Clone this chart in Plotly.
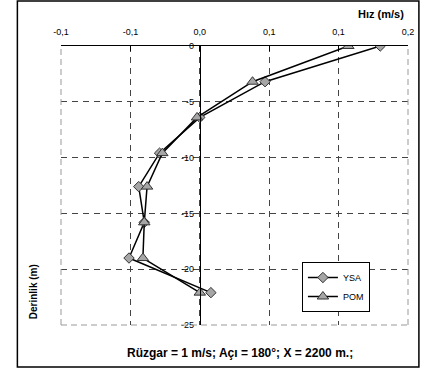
import plotly.graph_objects as go

depth = [0, -3.2, -6.4, -9.6, -12.6, -15.8, -19.0, -22.1]
ysa = [0.130, 0.047, 0.000, -0.029, -0.044, -0.040, -0.051, 0.008]
pom = [0.107, 0.038, -0.002, -0.027, -0.038, -0.040, -0.041, 0.000]

x_ticks = [-0.1, -0.05, 0.0, 0.05, 0.1, 0.15]
x_ticktext = ["-0,1", "-0,1", "0,0", "0,1", "0,1", "0,2"]
y_ticks = [0, -5, -10, -15, -20, -25]
y_ticktext = ["0", "-5", "-10", "-15", "-20", "-25"]

FONT = "Arial, Liberation Sans, sans-serif"
W, H = 426, 378
ML, MR, MT, MB = 61, 15, 46, 53
PW, PH = W - ML - MR, H - MT - MB


def px(x):
    return (x - ML) / PW


def py(y):
    return (H - MB - y) / PH


fig = go.Figure()
fig.add_trace(go.Scatter(
    x=ysa, y=depth, name="YSA", mode="lines+markers",
    line=dict(color="black", width=1.5),
    marker=dict(symbol="diamond", size=8, color="#a6a6a6",
                line=dict(color="#333333", width=1)),
))
fig.add_trace(go.Scatter(
    x=pom, y=depth, name="POM", mode="lines+markers",
    line=dict(color="black", width=1.5),
    marker=dict(symbol="triangle-up", size=10, color="#a6a6a6",
                line=dict(color="#333333", width=1)),
))

fig.update_layout(
    width=W, height=H,
    margin=dict(l=ML, r=MR, t=MT, b=MB),
    paper_bgcolor="white", plot_bgcolor="white",
    font=dict(family=FONT, size=9, color="black"),
    showlegend=True,
    legend=dict(x=px(304), y=py(262), xanchor="left", yanchor="top",
                bordercolor="black", borderwidth=1, bgcolor="white",
                font=dict(size=9), itemwidth=30, tracegroupgap=0),
    xaxis=dict(
        range=[-0.1, 0.15], side="top", tickvals=x_ticks, ticktext=x_ticktext,
        showline=True, linecolor="black", linewidth=1,
        ticks="inside", ticklen=5, tickcolor="black",
        showgrid=True, gridcolor="#444444", gridwidth=1, griddash="6px,5px",
        zeroline=False, ticklabelstandoff=6,
    ),
    yaxis=dict(
        range=[-25, 0], tickvals=y_ticks, ticktext=y_ticktext,
        anchor="free", position=0.4,
        showline=True, linecolor="black", linewidth=1,
        ticks="", showgrid=True, gridcolor="#444444", gridwidth=1,
        griddash="6px,5px", zeroline=False, ticklabelstandoff=4,
    ),
    shapes=[
        dict(type="line", xref="paper", yref="paper", x0=0, x1=0, y0=0, y1=1,
             line=dict(color="#999999", width=1, dash="6px,4px")),
        dict(type="line", xref="paper", yref="paper", x0=1, x1=1, y0=0, y1=1,
             line=dict(color="#999999", width=1, dash="6px,4px")),
        dict(type="line", xref="paper", yref="paper", x0=0, x1=1, y0=0, y1=0,
             line=dict(color="#999999", width=1, dash="6px,4px")),
        dict(type="rect", xref="paper", yref="paper",
             x0=px(17), x1=px(422), y0=py(367), y1=py(1),
             line=dict(color="black", width=1.5), layer="below"),
    ],
    annotations=[
        dict(text="<b>Hız (m/s)</b>", xref="paper", yref="paper",
             x=px(409), y=py(14), xanchor="right", yanchor="middle",
             showarrow=False, font=dict(size=11)),
        dict(text="<b>Derinlik (m)</b>", xref="paper", yref="paper",
             x=px(33), y=py(292), xanchor="center", yanchor="middle",
             textangle=-90, showarrow=False, font=dict(size=10)),
        dict(text="<b>Rüzgar = 1 m/s; Açı = 180°; X = 2200 m.;</b>",
             xref="paper", yref="paper", x=px(242), y=py(353),
             xanchor="center", yanchor="middle", showarrow=False,
             font=dict(size=12)),
    ],
)

fig.write_html("out.html", config={"displayModeBar": False},
               post_script="document.body.style.margin='0px';document.body.style.padding='0px';")
